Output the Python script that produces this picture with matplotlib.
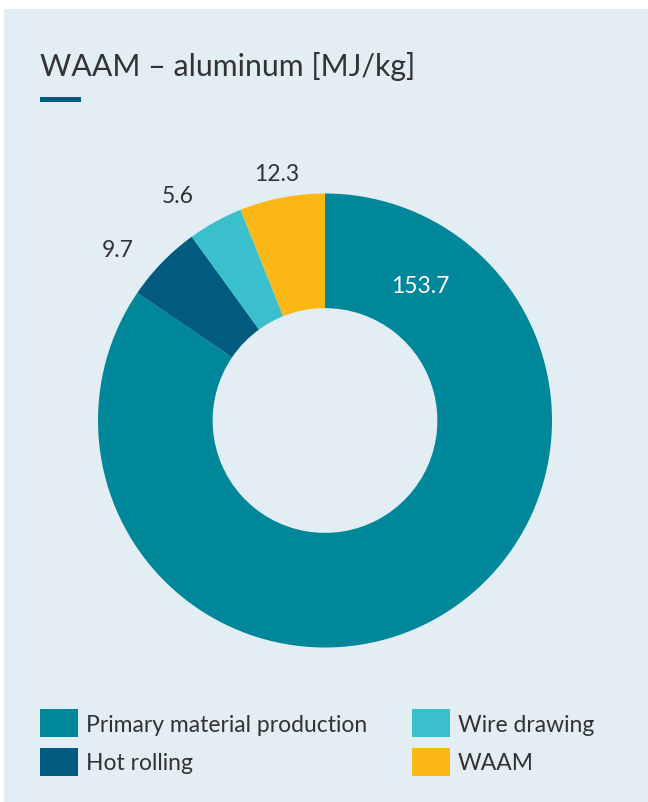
import matplotlib
matplotlib.use("Agg")
import matplotlib.pyplot as plt
from matplotlib.patches import Rectangle
import numpy as np

# ---- data ----
categories = ["Primary material production", "Hot rolling", "Wire drawing", "WAAM"]
# printed values
value_labels = ["153.7", "9.7", "5.6", "12.3"]
# wedge sizes as drawn in the reference (MJ/kg scale)
wedge_values = [153.2, 10.0, 7.1, 11.0]
colors = ["#00879a", "#005b7f", "#3ac0cd", "#fbb716"]
title = "WAAM \u2013 aluminum [MJ/kg]"

W, H = 648, 802
DPI = 100
plt.rcParams['font.family'] = ['Lato', 'DejaVu Sans']
fig = plt.figure(figsize=(W / DPI, H / DPI), dpi=DPI, facecolor="white")

def fx(px):
    return px / W

def fy(py):
    return 1 - py / H

bg = "#e3edf4"
bgax = fig.add_axes([fx(4), 0, 1 - fx(4), fy(9)], zorder=0)
bgax.set_facecolor(bg)
bgax.set_xticks([])
bgax.set_yticks([])
for s in bgax.spines.values():
    s.set_visible(False)

TXT = "#333333"

# title
fig.text(fx(40), fy(76), title, fontsize=21.8, color=TXT, va="baseline", ha="left", zorder=5)
fig.patches.append(Rectangle((fx(40), fy(102)), fx(41), 5 / H, transform=fig.transFigure,
                             facecolor="#005b7f", edgecolor="none", zorder=5))

# donut
cx, cy, R = 325, 420.5, 227
half = 260
ax = fig.add_axes([fx(cx - half), fy(cy + half), 2 * half / W, 2 * half / H], zorder=3)
ax.pie(wedge_values, colors=colors, startangle=90, counterclock=False, radius=1,
       wedgeprops=dict(width=0.505, linewidth=0))
ax.set_xlim(-half / R, half / R)
ax.set_ylim(-half / R, half / R)
ax.set_aspect("equal")
ax.axis("off")

# value labels
total = sum(wedge_values)
cum = np.cumsum([0] + wedge_values)
label_r = [0.725, 1.18, 1.18, 1.106]
label_shift = [-116.8, -4.7, -4.4, -0.1]  # deg, clockwise offset from wedge middle
label_col = ["white", TXT, TXT, TXT]
for i, v in enumerate(wedge_values):
    mid = (cum[i] + v / 2) / total * 360.0
    th = np.deg2rad(mid + label_shift[i])
    x, y = label_r[i] * np.sin(th), label_r[i] * np.cos(th)
    ax.text(x, y, value_labels[i], ha="center", va="center", fontsize=16.5, color=label_col[i])

# legend (column-major, 2 columns)
col_x = [40, 412]
row_y = [709, 748]
for i, (lab, c) in enumerate(zip(categories, colors)):
    col, row = divmod(i, 2)
    x0, y0 = col_x[col], row_y[row]
    fig.patches.append(Rectangle((fx(x0), fy(y0 + 28)), fx(38), 28 / H, transform=fig.transFigure,
                                 facecolor=c, edgecolor="none", zorder=5))
    fig.text(fx(x0 + 46), fy(y0 + 16), lab, fontsize=16.5, color=TXT, va="center", ha="left",
             zorder=5)

fig.savefig("out.png", dpi=DPI, facecolor="white")
